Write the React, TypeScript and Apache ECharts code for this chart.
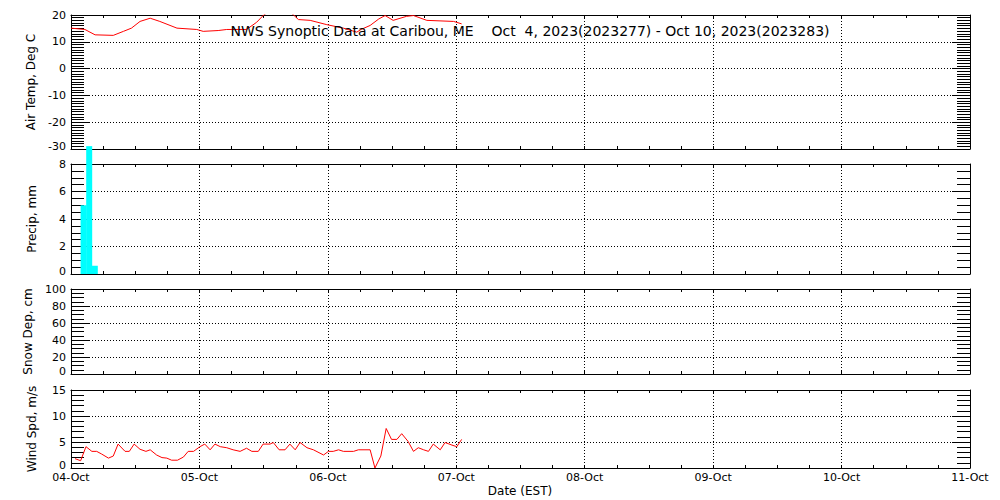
import React, { useEffect, useRef } from "react";
import * as echarts from "echarts";

// X axis: hours since 04-Oct 00:00 (EST)
const dayLabels = ["04-Oct", "05-Oct", "06-Oct", "07-Oct", "08-Oct", "09-Oct", "10-Oct", "11-Oct"];

const titleText = "NWS Synoptic Data at Caribou, ME    Oct  4, 2023(2023277) - Oct 10, 2023(2023283)";
const xTitle = "Date (EST)";
const panelNames = ["Air Temp, Deg C", "Precip, mm", "Snow Dep, cm", "Wind Spd, m/s"];

// Air temperature (deg C)
const tempHours = [0, 2.6, 4.5, 7.9, 9.8, 11.3, 12.9, 14.8, 16.6, 19.8, 23.5, 24.7, 27.5, 29.1, 32.8, 34.7, 36.0, 38.0, 40.0, 41.6, 42.5, 44.7, 47.8, 50.9, 53.4, 54.2, 55.9, 57.5, 58.7, 60.2, 62.7, 64.0, 66.5, 71.5, 73.0];
const tempValues = [15.1, 14.6, 12.6, 12.4, 13.9, 15.1, 17.6, 18.8, 17.6, 15.1, 14.6, 13.9, 14.2, 14.6, 14.6, 17.3, 20.0, 22.5, 22.5, 20.0, 18.3, 18.0, 16.4, 15.1, 13.6, 14.6, 16.1, 18.5, 19.8, 18.0, 19.5, 19.8, 18.0, 17.6, 16.7];

// Precipitation (mm), hourly bars
const precipHours = [2.35, 3.4, 4.45];
const precipValues = [5.0, 9.3, 0.6];

// Snow depth (cm): no data
const snowHours: number[] = [];
const snowValues: number[] = [];

// Wind speed (m/s)
const windHours = [0.75, 1.8, 2.8, 3.9, 4.8, 5.7, 7.0, 7.9, 8.8, 10.1, 10.9, 11.8, 12.9, 14.0, 14.8, 16.0, 17.0, 17.9, 18.8, 19.9, 21.0, 21.9, 22.9, 24.1, 25.0, 26.0, 26.9, 27.9, 29.1, 30.3, 31.6, 32.8, 33.8, 35.0, 35.9, 37.2, 37.8, 38.9, 40.0, 40.9, 41.9, 42.8, 44.1, 45.3, 47.2, 48.1, 49.0, 50.0, 50.9, 52.8, 53.7, 55.9, 56.8, 57.9, 58.9, 59.9, 60.9, 61.8, 63.0, 64.0, 64.9, 65.9, 66.8, 67.7, 69.0, 69.9, 71.2, 72.1, 73.0];
const windValues = [1.8, 1.4, 4.1, 3.2, 3.2, 2.7, 1.9, 2.3, 4.6, 3.2, 3.2, 4.6, 3.6, 3.2, 3.5, 2.5, 2.0, 1.9, 1.5, 1.5, 2.1, 3.2, 3.2, 4.1, 4.6, 3.5, 4.6, 4.1, 3.9, 3.5, 3.2, 3.8, 3.2, 3.2, 4.6, 4.6, 4.9, 3.5, 3.5, 4.6, 3.5, 4.9, 3.9, 3.5, 2.5, 3.2, 3.2, 3.5, 3.2, 3.2, 3.5, 3.5, 0.0, 2.3, 7.6, 5.5, 5.5, 6.6, 5.1, 3.2, 3.9, 3.5, 3.2, 4.6, 3.5, 4.9, 4.4, 4.1, 5.5];

// Y axis ranges per panel: [min, max, interval, minorSplit]
const yRanges: [number, number, number, number][] = [
  [-30, 20, 10, 10],
  [0, 8, 2, 4],
  [0, 100, 20, 4],
  [0, 15, 5, 5],
];

const gridBoxes = [
  { top: 15, height: 134 },
  { top: 164, height: 110 },
  { top: 289, height: 85 },
  { top: 390, height: 78 },
];

const FONT = "DejaVu Sans";

function pairs(xs: number[], ys: number[]) {
  return xs.map((x, i) => [x, ys[i]]);
}

export default function App() {
  const ref = useRef<HTMLDivElement>(null);
  useEffect(() => {
    if (!ref.current) return;
    const chart = echarts.init(ref.current, undefined, { renderer: "svg" });
    const grids = gridBoxes.map((g) => ({ left: 71, width: 899, top: g.top, height: g.height, containLabel: false }));
    const xAxes: any[] = [];
    const yAxes: any[] = [];
    gridBoxes.forEach((_, i) => {
      const isLast = i === gridBoxes.length - 1;
      const baseX = {
        type: "value",
        gridIndex: i,
        min: 0,
        max: 168,
        interval: 24,
        axisLine: { show: true, onZero: false, lineStyle: { color: "#000", width: 1 } },
        axisTick: { show: true, inside: true, length: 3, lineStyle: { color: "#000" } },
        minorTick: { show: true, splitNumber: 4, length: 3, lineStyle: { color: "#000" } },
        splitLine: { show: false },
      };
      xAxes.push({
        ...baseX,
        position: "bottom",
        axisLabel: {
          show: isLast,
          margin: 4,
          color: "#000",
          fontFamily: FONT,
          fontSize: 11,
          showMinLabel: true,
          showMaxLabel: true,
          formatter: (v: number) => dayLabels[Math.round(v / 24)] ?? "",
        },
        splitLine: { show: true, lineStyle: { color: "#000", width: 1, type: [1, 2] } },
      });
      xAxes.push({ ...baseX, position: "top", axisLabel: { show: false } });
      const [mn, mx, iv, ms] = yRanges[i];
      const baseY = {
        type: "value",
        gridIndex: i,
        min: mn,
        max: mx,
        interval: iv,
        axisLine: { show: true, onZero: false, lineStyle: { color: "#000", width: 1 } },
        axisTick: { show: true, inside: true, length: 18, lineStyle: { color: "#000" } },
        minorTick: { show: true, splitNumber: ms, length: 13, lineStyle: { color: "#000" } },
        splitLine: { show: false },
      };
      yAxes.push({
        ...baseY,
        position: "left",
        name: panelNames[i],
        nameLocation: "middle",
        nameGap: 33,
        nameTextStyle: { color: "#000", fontFamily: FONT, fontSize: 12 },
        axisLabel: {
          show: true,
          margin: 5,
          color: "#000",
          fontFamily: FONT,
          fontSize: 11,
          showMinLabel: true,
          showMaxLabel: true,
          formatter: (v: number) => (v === mn ? `{m|${v}}` : `${v}`),
          rich: { m: { color: "#000", fontFamily: FONT, fontSize: 11, padding: [0, 0, 6, 0] } },
        },
        splitLine: { show: true, lineStyle: { color: "#000", width: 1, type: [1, 2] } },
      });
      yAxes.push({ ...baseY, position: "right", axisLabel: { show: false } });
    });

    chart.setOption({
      animation: false,
      backgroundColor: "#fff",
      grid: grids,
      xAxis: xAxes,
      yAxis: yAxes,
      graphic: [
        {
          type: "text",
          x: 530,
          y: 31,
          z: 100,
          style: { text: titleText, fill: "#000", font: `14px "${FONT}"`, textAlign: "center", textVerticalAlign: "middle" },
        },
        {
          type: "text",
          x: 520,
          y: 491,
          style: { text: xTitle, fill: "#000", font: `12px "${FONT}"`, textAlign: "center", textVerticalAlign: "middle" },
        },
      ],
      series: [
        {
          type: "line",
          xAxisIndex: 0,
          yAxisIndex: 0,
          data: pairs(tempHours, tempValues),
          showSymbol: false,
          lineStyle: { color: "#ff0000", width: 1 },
          clip: true,
        },
        {
          type: "bar",
          xAxisIndex: 2,
          yAxisIndex: 2,
          data: pairs(precipHours, precipValues),
          barWidth: 6,
          itemStyle: { color: "#00ffff" },
          clip: false,
          z: 5,
        },
        {
          type: "line",
          xAxisIndex: 4,
          yAxisIndex: 4,
          data: pairs(snowHours, snowValues),
          showSymbol: false,
          lineStyle: { color: "#ff0000", width: 1 },
        },
        {
          type: "line",
          xAxisIndex: 6,
          yAxisIndex: 6,
          data: pairs(windHours, windValues),
          showSymbol: false,
          lineStyle: { color: "#ff0000", width: 1 },
        },
      ],
    });
    return () => chart.dispose();
  }, []);
  return <div ref={ref} style={{ position: "absolute", left: 0, top: 0, width: 1000, height: 500 }} />;
}
